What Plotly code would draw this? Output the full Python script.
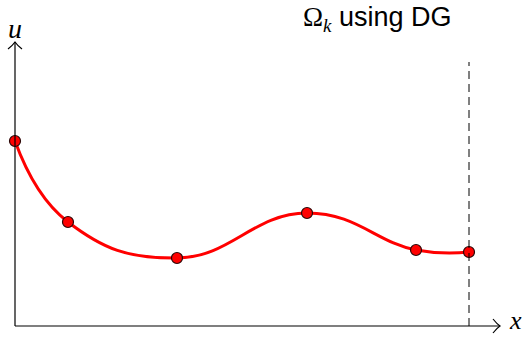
import plotly.graph_objects as go

# Nodal values of the discrete solution on the element Omega_k
x_nodes = [0.0, 0.1167, 0.3568, 0.6432, 0.8833, 1.0]
u_nodes = [1.85, 1.04, 0.68, 1.13, 0.76, 0.74]

W, H = 531, 337
# axis ranges chosen so that the element [0, 1] spans the drawing area
X_RANGE = [-15 / 454, 516 / 454]
Y_RANGE = [-0.11, 3.26]


def dx(px):
    """pixel column -> data x"""
    return X_RANGE[0] + px / W * (X_RANGE[1] - X_RANGE[0])


def dy(py):
    """pixel row -> data y"""
    return Y_RANGE[1] - py / H * (Y_RANGE[1] - Y_RANGE[0])


fig = go.Figure()

fig.add_trace(go.Scatter(
    x=x_nodes, y=u_nodes, mode="lines",
    line=dict(color="#ff0000", width=3, shape="spline", smoothing=1.3),
    hoverinfo="skip", showlegend=False,
))
fig.add_trace(go.Scatter(
    x=x_nodes, y=u_nodes, mode="markers",
    marker=dict(size=11, color="#ff0000", line=dict(color="#2a0808", width=1.2)),
    showlegend=False,
))

axis_line = dict(color="black", width=1.2)
x_end = dx(500)
y_end = dy(42)
shapes = [
    # coordinate axes
    dict(type="line", xref="x", yref="y", x0=0, y0=0, x1=x_end, y1=0, line=axis_line),
    dict(type="line", xref="x", yref="y", x0=0, y0=0, x1=0, y1=y_end, line=axis_line),
    # arrow tips
    dict(type="path", xref="x", yref="y", line=axis_line,
         path=f"M {dx(493)} {dy(319)} Q {dx(497)} {dy(324)} {dx(500)} {dy(326)} "
              f"Q {dx(497)} {dy(328)} {dx(493)} {dy(333)}"),
    dict(type="path", xref="x", yref="y", line=axis_line,
         path=f"M {dx(8)} {dy(49)} Q {dx(13)} {dy(45)} {dx(15)} {dy(42)} "
              f"Q {dx(17)} {dy(45)} {dx(22)} {dy(49)}"),
    # right boundary of the element
    dict(type="line", xref="x", yref="y", x0=1.0, y0=0, x1=1.0, y1=dy(62),
         line=dict(color="black", width=1, dash="8px,5px")),
]

serif = "Liberation Serif, DejaVu Serif, serif"
sans = "Liberation Sans, Arial, sans-serif"
annotations = [
    dict(x=dx(15), y=dy(28), xref="x", yref="y", text="<i>u</i>", showarrow=False,
         font=dict(family=serif, size=28, color="black")),
    dict(x=dx(508), y=dy(336), xref="x", yref="y", xanchor="left", yanchor="bottom",
         borderpad=0, text="<i>x</i>", showarrow=False,
         font=dict(family=serif, size=26, color="black")),
    dict(x=dx(301), y=dy(19), xref="x", yref="y", xanchor="left",
         text=("<span style='font-family:Liberation Serif'>Ω</span>"
               "<sub><i><span style='font-family:Liberation Serif'>k</span></i></sub>"
               "<span> using DG</span>"),
         showarrow=False, font=dict(family=sans, size=27, color="black")),
]

fig.update_layout(
    width=W, height=H,
    margin=dict(l=0, r=0, t=0, b=0),
    paper_bgcolor="white", plot_bgcolor="white",
    xaxis=dict(range=X_RANGE, visible=False, fixedrange=True),
    yaxis=dict(range=Y_RANGE, visible=False, fixedrange=True),
    shapes=shapes, annotations=annotations,
)

fig.write_html("out.html")
